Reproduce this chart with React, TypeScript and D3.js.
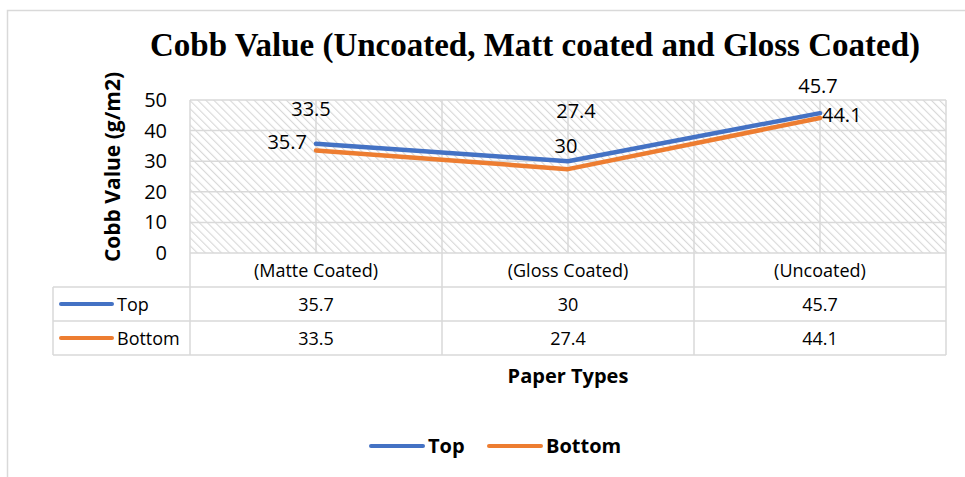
import React from "react";
import * as d3 from "d3";

const title = "Cobb Value (Uncoated, Matt coated and Gloss Coated)";
const categories = ["(Matte Coated)", "(Gloss Coated)", "(Uncoated)"];
const seriesNames = ["Top", "Bottom"];
const topValues = [35.7, 30, 45.7];
const bottomValues = [33.5, 27.4, 44.1];
const yTicks = [0, 10, 20, 30, 40, 50];
const yTitle = "Cobb Value (g/m2)";
const xTitle = "Paper Types";

const colors = ["#4472C4", "#ED7D31"];

// label placement per series/point: [dx, dy, anchor]
const labelPlacement: [number, number, string][][] = [
  [
    [-9, 5, "end"],
    [-2, -8, "middle"],
    [-2, -20, "middle"],
  ],
  [
    [-5, -34, "middle"],
    [8, -51, "middle"],
    [2, 4, "start"],
  ],
];

const W = 965;
const H = 477;
const plotL = 190;
const plotR = 946;
const plotT = 100;
const plotB = 253;
const rowH = 34;
const tableL = 53;
const grid = "#d9d9d9";
const sans = "'Open Sans', sans-serif";

export default function App() {
  const x = d3.scaleBand<string>().domain(categories).range([plotL, plotR]).padding(0);
  const y = d3.scaleLinear().domain([0, 50]).range([plotB, plotT]);
  const cx = (c: string) => (x(c) as number) + x.bandwidth() / 2;

  const series = [topValues, bottomValues];
  const line = d3
    .line<number>()
    .x((_, i) => cx(categories[i]))
    .y((d) => y(d));

  const tableBottom = plotB + rowH * 3;
  const boundaries = categories.map((c) => x(c) as number).concat([plotR]);

  return (
    <svg
      width={W}
      height={H}
      style={{ position: "absolute", left: 0, top: 0, background: "#fff" }}
    >
      <defs>
        <pattern
          id="hatch"
          width={5.7}
          height={5.7}
          patternUnits="userSpaceOnUse"
          patternTransform="rotate(-45)"
        >
          <rect width={5.7} height={5.7} fill="#fff" />
          <line x1={0} y1={0} x2={0} y2={5.7} stroke="#d8d8d8" strokeWidth={2.2} />
        </pattern>
      </defs>

      {/* chart area frame */}
      <path d={`M${W + 2},10.5 H7.5 V${H + 2}`} fill="none" stroke={grid} strokeWidth={1.5} />

      {/* title */}
      <text
        x={535}
        y={55.5}
        textAnchor="middle"
        fontFamily="'Liberation Serif', 'Times New Roman', serif"
        fontWeight="bold"
        fontSize={33}
        fill="#000"
      >
        {title}
      </text>

      {/* plot background */}
      <rect x={plotL} y={plotT} width={plotR - plotL} height={plotB - plotT} fill="url(#hatch)" />

      {/* horizontal gridlines */}
      {yTicks.map((t) => (
        <line key={t} x1={plotL} x2={plotR} y1={y(t)} y2={y(t)} stroke={grid} strokeWidth={1.5} />
      ))}
      {/* vertical gridlines at category centres */}
      {categories.map((c) => (
        <line key={c} x1={cx(c)} x2={cx(c)} y1={plotT} y2={plotB} stroke={grid} strokeWidth={1.5} />
      ))}
      {/* category boundaries through the data table */}
      {boundaries.map((b, i) => (
        <line key={i} x1={b} x2={b} y1={plotT} y2={tableBottom} stroke={grid} strokeWidth={1.5} />
      ))}
      {/* data table rows */}
      {[1, 2, 3].map((r) => (
        <line
          key={r}
          x1={tableL}
          x2={plotR}
          y1={plotB + rowH * r}
          y2={plotB + rowH * r}
          stroke={grid}
          strokeWidth={1.5}
        />
      ))}
      <line x1={tableL} x2={tableL} y1={plotB + rowH} y2={tableBottom} stroke={grid} strokeWidth={1.5} />

      {/* y ticks */}
      {yTicks.map((t) => (
        <text
          key={t}
          x={167}
          y={y(t) + 7}
          textAnchor="end"
          fontFamily={sans}
          fontSize={20}
          fill="#000"
        >
          {t}
        </text>
      ))}

      {/* y title */}
      <text
        transform={`translate(120,167) rotate(-90)`}
        textAnchor="middle"
        fontFamily={sans}
        fontWeight="bold"
        fontSize={21}
        fill="#000"
      >
        {yTitle}
      </text>

      {/* series lines */}
      {series.map((vals, s) => (
        <path
          key={s}
          d={line(vals) as string}
          fill="none"
          stroke={colors[s]}
          strokeWidth={4.5}
          strokeLinecap="round"
          strokeLinejoin="round"
        />
      ))}

      {/* data labels */}
      {series.map((vals, s) =>
        vals.map((v, i) => {
          const [dx, dy, anchor] = labelPlacement[s][i];
          return (
            <text
              key={`${s}-${i}`}
              x={cx(categories[i]) + dx}
              y={y(v) + dy}
              textAnchor={anchor as any}
              fontFamily={sans}
              fontSize={20}
              fill="#000"
            >
              {v}
            </text>
          );
        })
      )}

      {/* data table: category row */}
      {categories.map((c) => (
        <text
          key={c}
          x={cx(c)}
          y={plotB + rowH / 2 + 6.5}
          textAnchor="middle"
          fontFamily={sans}
          fontSize={18}
          fill="#000"
        >
          {c}
        </text>
      ))}

      {/* data table: series rows */}
      {series.map((vals, s) => {
        const rowMid = plotB + rowH * (s + 1) + rowH / 2;
        return (
          <g key={s}>
            <line
              x1={61}
              x2={112}
              y1={rowMid}
              y2={rowMid}
              stroke={colors[s]}
              strokeWidth={4}
              strokeLinecap="round"
            />
            <text x={117} y={rowMid + 6.5} fontFamily={sans} fontSize={18} fill="#000">
              {seriesNames[s]}
            </text>
            {vals.map((v, i) => (
              <text
                key={i}
                x={cx(categories[i])}
                y={rowMid + 6.5}
                textAnchor="middle"
                fontFamily={sans}
                fontSize={18}
                fill="#000"
              >
                {v}
              </text>
            ))}
          </g>
        );
      })}

      {/* x title */}
      <text
        x={(plotL + plotR) / 2}
        y={383}
        textAnchor="middle"
        fontFamily={sans}
        fontWeight="bold"
        fontSize={20}
        fill="#000"
      >
        {xTitle}
      </text>

      {/* legend */}
      {seriesNames.map((n, s) => {
        const lx = s === 0 ? 371 : 489;
        return (
          <g key={n}>
            <line
              x1={lx}
              x2={lx + 52}
              y1={446}
              y2={446}
              stroke={colors[s]}
              strokeWidth={4}
              strokeLinecap="round"
            />
            <text x={lx + 57} y={453} fontFamily={sans} fontWeight="bold" fontSize={20} fill="#000">
              {n}
            </text>
          </g>
        );
      })}
    </svg>
  );
}
